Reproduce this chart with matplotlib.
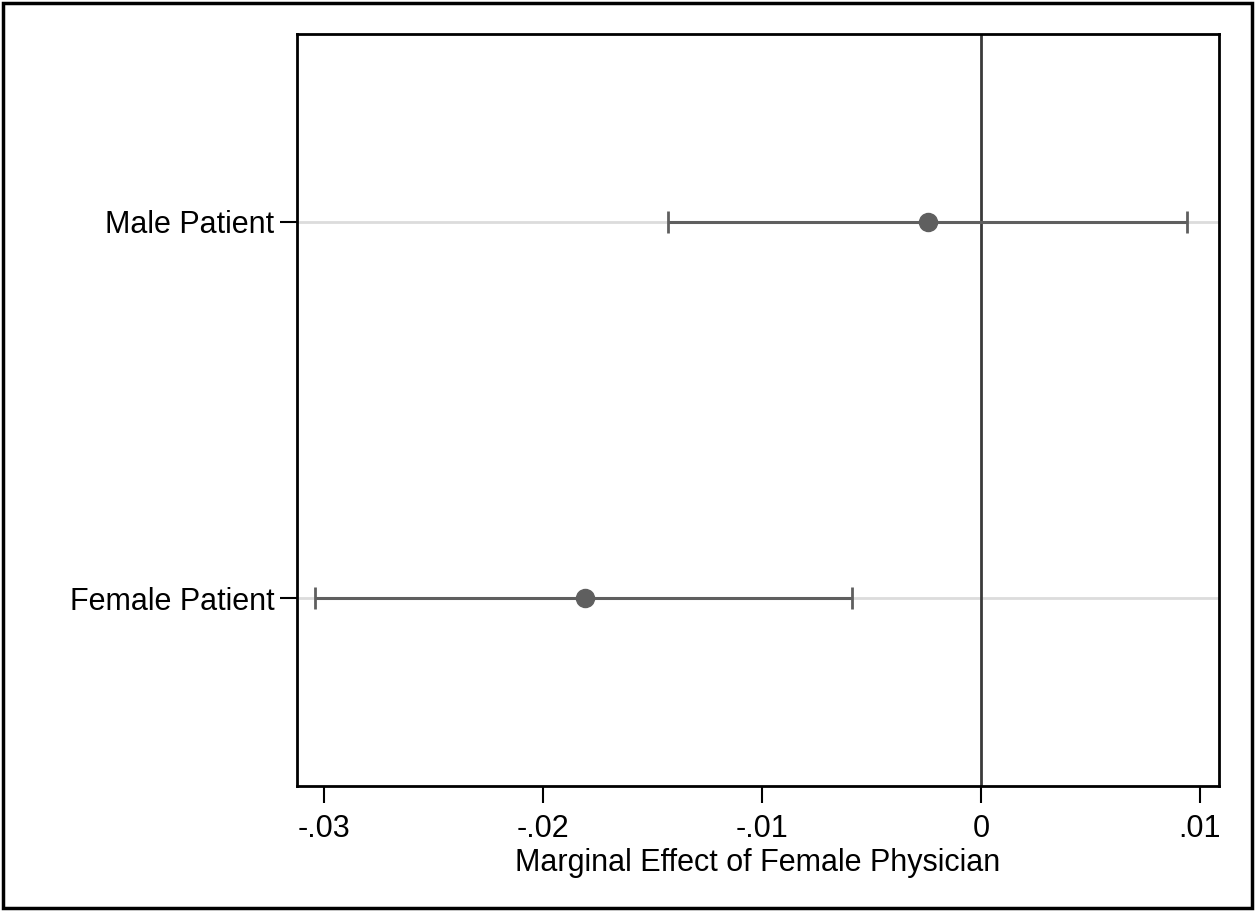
import matplotlib.pyplot as plt
import numpy as np

# Marginal effects with confidence intervals
groups = ['Female Patient', 'Male Patient']
effect = [-0.0181, -0.0024]
ci_low = [-0.0304, -0.0143]
ci_high = [-0.0059, 0.0094]
xticks = [-0.03, -0.02, -0.01, 0, 0.01]
xticklabels = ['-.03', '-.02', '-.01', '0', '.01']

plt.rcParams['font.family'] = ['Liberation Sans', 'DejaVu Sans']

fig = plt.figure(figsize=(12.55, 9.11), dpi=100)
ax = fig.add_axes([0.2364, 0.1372, 0.9713 - 0.2364, 0.9627 - 0.1372])

ypos = np.arange(1, len(groups) + 1)
eff = np.array(effect)
lo = np.array(ci_low)
hi = np.array(ci_high)

# light horizontal gridlines at each category
for y in ypos:
    ax.axhline(y, color='#dcdcdc', lw=2, zorder=1)

ax.axvline(0, color='#3a3a3a', lw=2, zorder=2)

ax.errorbar(eff, ypos, xerr=[eff - lo, hi - eff], fmt='o', color='#5f5f5f',
            ecolor='#5f5f5f', elinewidth=2.2, capsize=8, capthick=2,
            markersize=13, zorder=3)

ax.set_xlim(-0.03125, 0.01087)
ax.set_ylim(0.5, 2.5)
ax.set_xticks(xticks)
ax.set_xticklabels(xticklabels)
ax.set_yticks(ypos)
ax.set_yticklabels(groups)
ax.tick_params(axis='both', labelsize=22, length=12, width=1.5)
ax.tick_params(axis='x', pad=8)
ax.tick_params(axis='y', pad=4)
ax.set_xlabel('Marginal Effect of Female Physician', fontsize=22, labelpad=3)

for s in ax.spines.values():
    s.set_linewidth(2)

# outer frame around the whole figure
fig.patches.append(plt.Rectangle((0.002, 0.003), 0.996, 0.994, transform=fig.transFigure,
                                 fill=False, ec='black', lw=2.5))

fig.savefig('out.png', dpi=100)
